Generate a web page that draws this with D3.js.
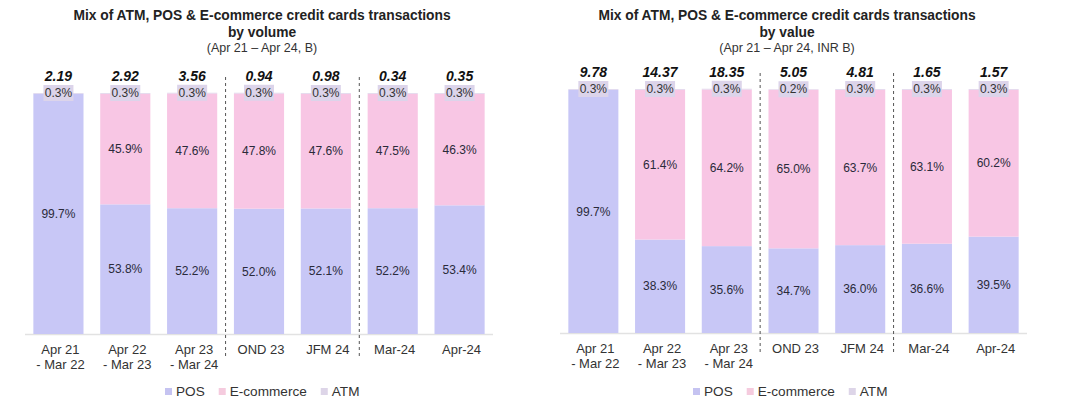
<!DOCTYPE html>
<html>
<head>
<meta charset="utf-8">
<script src="https://cdn.jsdelivr.net/npm/d3@7"></script>
<style>
  body { margin: 0; background: #fff; font-family: "Liberation Sans", Arial, sans-serif; }
  svg text { fill: #222; }
</style>
</head>
<body>
<svg id="chart" width="1080" height="414"></svg>
<script>
// categories shared by both panels
const categories = ["Apr 21|- Mar 22", "Apr 22|- Mar 23", "Apr 23|- Mar 24", "OND 23", "JFM 24", "Mar-24", "Apr-24"];
const seriesNames = ["POS", "E-commerce", "ATM"];

// by volume (%)
const volPOS = [99.7, 53.8, 52.2, 52.0, 52.1, 52.2, 53.4];
const volEcom = [0, 45.9, 47.6, 47.8, 47.6, 47.5, 46.3];
const volATM = [0.3, 0.3, 0.3, 0.3, 0.3, 0.3, 0.3];
const volTotals = ["2.19", "2.92", "3.56", "0.94", "0.98", "0.34", "0.35"];

// by value (%)
const valPOS = [99.7, 38.3, 35.6, 34.7, 36.0, 36.6, 39.5];
const valEcom = [0, 61.4, 64.2, 65.0, 63.7, 63.1, 60.2];
const valATM = [0.3, 0.3, 0.3, 0.2, 0.3, 0.3, 0.3];
const valTotals = ["9.78", "14.37", "18.35", "5.05", "4.81", "1.65", "1.57"];

const colors = { "POS": "#c8c7f6", "E-commerce": "#f8c6e4", "ATM": "#ddd4eb" };
const legendColors = { "POS": "#c5c3f1", "E-commerce": "#f5cbde", "ATM": "#ddd5e8" };

const svg = d3.select("#chart");

function drawPanel(cfg) {
  const g = svg.append("g");

  const rows = categories.map((c, i) => ({
    cat: c,
    "POS": cfg.pos[i],
    "E-commerce": cfg.ecom[i],
    "ATM": cfg.atm[i],
    total: cfg.totals[i]
  }));

  const x = d3.scaleBand()
      .domain(categories)
      .range([cfg.x0, cfg.x1])
      .paddingInner(0.25)
      .paddingOuter(0.125);

  const y = d3.scaleLinear()
      .domain([0, 100])
      .range([cfg.base, cfg.top]);

  const stacked = d3.stack().keys(seriesNames)(rows);

  // titles
  const cx = cfg.titleX;
  g.append("text").attr("x", cx).attr("y", 20).attr("text-anchor", "middle")
      .style("font-size", "13.8px").style("font-weight", "bold").text(cfg.title1);
  g.append("text").attr("x", cx).attr("y", 37).attr("text-anchor", "middle")
      .style("font-size", "13.8px").style("font-weight", "bold").text(cfg.title2);
  g.append("text").attr("x", cx).attr("y", 51.5).attr("text-anchor", "middle")
      .style("font-size", "12.5px").style("fill", "#333").text(cfg.subtitle);

  // baseline
  g.append("line")
      .attr("x1", cfg.x0).attr("x2", cfg.x1)
      .attr("y1", cfg.base + 0.5).attr("y2", cfg.base + 0.5)
      .attr("stroke", "#e2e2e2").attr("stroke-width", 1.5);

  // bars
  const layer = g.selectAll(".layer")
    .data(stacked)
    .enter().append("g")
      .attr("class", "layer")
      .attr("fill", d => colors[d.key]);

  layer.selectAll("rect")
    .data(d => d)
    .enter().append("rect")
      .attr("x", d => x(d.data.cat))
      .attr("y", d => y(d[1]))
      .attr("width", x.bandwidth())
      .attr("height", d => y(d[0]) - y(d[1]));

  // segment labels for POS and E-commerce
  stacked.filter(s => s.key !== "ATM").forEach(s => {
    g.selectAll(".lbl-" + s.key)
      .data(s.filter(d => d[1] - d[0] > 0))
      .enter().append("text")
        .attr("x", d => x(d.data.cat) + x.bandwidth() / 2)
        .attr("y", d => (y(d[0]) + y(d[1])) / 2)
        .attr("dy", "0.35em")
        .attr("text-anchor", "middle")
        .style("font-size", "12px")
        .style("fill", "#2a2a3a")
        .text(d => d.data[s.key].toFixed(1) + "%");
  });

  // ATM labels with a small box at the top of each bar
  const atm = stacked.find(s => s.key === "ATM");
  const atmLbl = g.selectAll(".atm-lbl")
    .data(atm)
    .enter().append("g")
      .attr("transform", d => "translate(" + (x(d.data.cat) + x.bandwidth() / 2) + "," + y(d[1]) + ")");
  atmLbl.append("rect")
      .attr("x", -15).attr("y", -8)
      .attr("width", 30).attr("height", 16)
      .attr("fill", "#dcd4ea");
  atmLbl.append("text")
      .attr("text-anchor", "middle")
      .attr("dy", "0.35em")
      .style("font-size", "12px")
      .style("fill", "#333")
      .text(d => d.data["ATM"].toFixed(1) + "%");

  // totals
  g.selectAll(".total")
    .data(rows)
    .enter().append("text")
      .attr("x", d => x(d.cat) + x.bandwidth() / 2)
      .attr("y", cfg.top - 17)
      .attr("dy", "0.35em")
      .attr("text-anchor", "middle")
      .style("font-size", "14px")
      .style("font-weight", "bold")
      .style("font-style", "italic")
      .style("fill", "#111")
      .text(d => d.total);

  // dotted separators between groups
  [2, 4].forEach(i => {
    const sx = (x(categories[i]) + x.bandwidth() + x(categories[i + 1])) / 2;
    g.append("line")
        .attr("x1", sx).attr("x2", sx)
        .attr("y1", cfg.top - 16).attr("y2", cfg.base + 22)
        .attr("stroke", "#555").attr("stroke-width", 1)
        .attr("stroke-dasharray", "3,3");
  });

  // category labels
  const cat = g.selectAll(".cat")
    .data(categories)
    .enter().append("text")
      .attr("text-anchor", "middle")
      .style("font-size", "13px")
      .style("fill", "#333")
      .attr("x", d => x(d) + x.bandwidth() / 2 + 2);
  cat.selectAll("tspan")
    .data(d => d.split("|"))
    .enter().append("tspan")
      .attr("x", function() { return d3.select(this.parentNode).attr("x"); })
      .attr("y", (d, i) => cfg.base + 19.5 + i * 15)
      .text(d => d);

  // legend
  const legend = g.append("g").attr("transform", "translate(" + cfg.legendX + "," + 391 + ")");
  let lx = 0;
  seriesNames.forEach(n => {
    legend.append("rect").attr("x", lx).attr("y", -3).attr("width", 7).attr("height", 7)
        .attr("fill", legendColors[n]);
    const t = legend.append("text").attr("x", lx + 11).attr("y", 0).attr("dy", "0.35em")
        .style("font-size", "13.6px").style("fill", "#333").text(n);
    lx += 11 + t.node().getComputedTextLength() + 14;
  });
}

drawPanel({
  x0: 25, x1: 493, top: 93, base: 334,
  titleX: 262, legendX: 165,
  title1: "Mix of ATM, POS & E-commerce credit cards transactions",
  title2: "by volume",
  subtitle: "(Apr 21 \u2013 Apr 24, B)",
  pos: volPOS, ecom: volEcom, atm: volATM, totals: volTotals
});

drawPanel({
  x0: 560, x1: 1027, top: 89, base: 333,
  titleX: 787, legendX: 693,
  title1: "Mix of ATM, POS & E-commerce credit cards transactions",
  title2: "by value",
  subtitle: "(Apr 21 \u2013 Apr 24, INR B)",
  pos: valPOS, ecom: valEcom, atm: valATM, totals: valTotals
});
</script>
</body>
</html>
